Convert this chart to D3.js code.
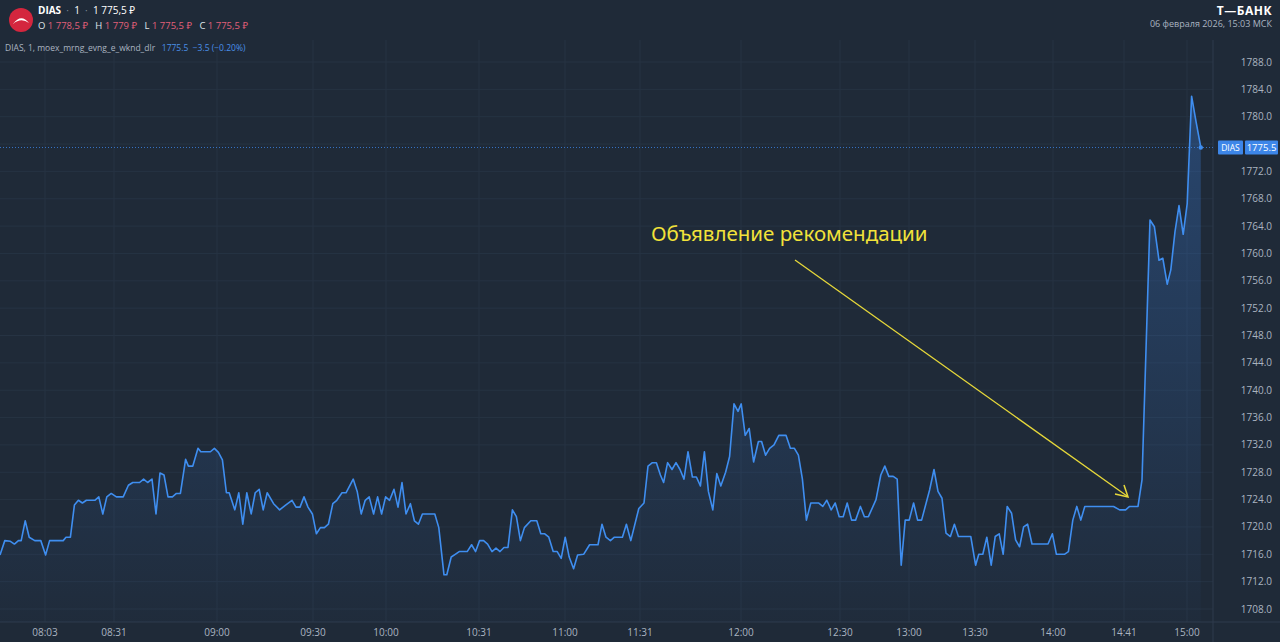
<!DOCTYPE html>
<html>
<head>
  <meta charset="utf-8">
  <title>DIAS</title>
  <style>
    html, body { margin: 0; padding: 0; background: #1f2a38; }
    svg { display: block; font-family: "Open Sans", "Noto Sans", sans-serif; }
    text { white-space: pre; }
  </style>
</head>
<body>
  <div id="chart"></div>
  <script src="https://d3js.org/d3.v7.min.js"></script>
  <script>
    // minute index (bar number) and close price
    var bars = [0,1.2,2.6,3.6,4.6,5.3,6.3,7.3,8.7,10.2,11.4,12.4,15.8,16.5,17.6,18.6,19.6,20.6,21.6,23.7,24.7,25.7,26.7,27.8,29.1,30.8,32.1,33.2,34.9,35.9,36.9,38.0,39.0,40.0,41.0,42.0,43.1,44.1,45.1,46.4,47.1,48.2,49.5,50.2,52.6,53.6,54.6,55.6,56.6,57.3,58.7,59.7,60.7,61.7,62.8,63.8,64.8,65.8,66.8,68.4,69.9,71.4,73.0,74.0,75.0,76.0,77.0,78.1,79.1,80.1,81.1,82.1,83.2,84.2,85.5,86.5,88.3,89.3,90.3,91.3,92.3,93.4,94.4,95.4,96.4,97.4,98.5,99.5,100.5,101.5,102.6,103.6,104.6,105.6,108.7,109.7,111.0,111.7,112.8,113.8,114.8,116.8,117.9,118.9,119.9,120.9,121.9,123.0,124.0,125.0,126.0,127.0,128.1,129.1,130.1,131.1,132.7,134.2,135.2,136.2,137.2,138.3,139.3,140.3,141.3,142.3,143.4,144.4,145.9,147.4,149.5,150.5,151.5,152.6,153.6,155.6,156.6,157.7,159.7,
      161.0,162.0,163.1,164.1,165.1,165.9,166.9,168.0,169.0,170.0,171.0,172.0,173.1,174.1,175.1,176.1,177.1,178.2,179.2,180.2,181.4,182.4,183.5,184.5,185.3,186.3,187.3,188.4,189.6,190.4,191.4,192.4,193.5,194.7,196.5,197.6,198.6,199.6,200.6,201.6,202.7,204.7,205.7,206.7,207.8,208.8,209.8,210.8,211.8,212.9,213.9,215.1,216.1,217.1,219.0,220.2,221.2,222.2,223.3,224.3,225.3,226.3,227.3,228.4,229.4,230.4,232.4,233.5,234.5,235.5,236.5,237.6,238.6,239.6,242.7,243.9,244.7,245.7,246.7,247.8,248.8,249.8,250.8,251.8,252.9,253.9,254.9,255.9,256.9,258.0,262.0,263.1,264.1,266.1,267.1,268.2,269.2,270.2,271.2,278.4,279.9,281.4,282.4,284.5,285.5,
      287.5,288.6,289.75,290.7,291.8,292.7,293.75,294.75,295.8,296.8,297.9,299.0,300.2];
    var prices = [1715.9,1718.0,1717.9,1717.5,1718.0,1718.0,1720.9,1718.5,1718.0,1718.0,1715.9,1718.0,1718.0,1718.5,1718.5,1723.2,1723.9,1723.5,1723.9,1723.9,1724.4,1721.9,1724.4,1724.9,1724.4,1724.4,1726.1,1726.5,1726.5,1727.0,1726.5,1727.0,1721.9,1727.9,1727.6,1724.4,1724.4,1724.9,1724.9,1729.9,1728.9,1728.9,1731.5,1731.0,1731.0,1731.5,1730.9,1729.8,1725.0,1725.0,1722.5,1725.0,1720.4,1725.0,1721.9,1725.0,1725.5,1722.5,1725.0,1723.4,1722.5,1723.2,1723.9,1722.9,1722.9,1724.4,1722.9,1721.9,1719.0,1719.9,1719.9,1720.4,1723.4,1723.9,1725.0,1725.0,1727.0,1725.2,1721.9,1723.9,1724.4,1721.9,1724.4,1721.9,1724.4,1723.9,1725.5,1722.9,1726.5,1721.9,1723.4,1720.9,1720.4,1721.9,1721.9,1719.9,1713.0,1713.0,1715.6,1716.0,1716.4,1716.4,1717.4,1716.4,1718.0,1718.0,1717.5,1716.4,1716.9,1716.4,1717.0,1717.0,1722.5,1721.5,1718.0,1719.9,1720.9,1720.9,1719.0,1719.0,1718.5,1716.4,1716.4,1715.4,1718.5,1715.6,1713.9,1715.9,1716.0,1717.4,1717.4,1720.4,1718.5,1718.0,1718.5,1718.5,1720.4,1718.0,1722.7,
      1723.5,1728.9,1729.4,1729.4,1727.6,1726.5,1729.4,1728.4,1729.4,1728.4,1727.0,1731.0,1727.3,1727.3,1726.0,1731.0,1725.2,1722.5,1727.8,1726.0,1728.0,1730.3,1738.0,1736.9,1738.0,1733.4,1734.4,1729.5,1732.5,1732.5,1730.5,1731.5,1732.0,1733.4,1733.4,1731.5,1731.5,1730.5,1727.0,1721.0,1723.5,1723.5,1723.0,1723.9,1722.5,1723.5,1721.5,1721.5,1723.5,1721.0,1721.0,1723.0,1721.5,1721.5,1724.0,1727.6,1728.9,1727.4,1727.4,1727.0,1714.4,1721.0,1721.0,1723.5,1721.0,1721.0,1725.4,1728.4,1725.2,1724.2,1719.1,1718.6,1720.4,1718.6,1718.6,1714.4,1716.0,1716.0,1718.5,1714.4,1718.6,1719.0,1716.0,1723.0,1722.0,1718.1,1717.1,1720.0,1720.4,1717.5,1717.5,1719.0,1716.0,1716.0,1716.4,1721.0,1723.0,1721.0,1723.0,1723.0,1722.5,1722.5,1723.0,1723.0,1726.9,
      1764.9,1763.9,1759.0,1759.3,1755.5,1757.6,1763.2,1767.0,1762.8,1767.3,1783.0,1779.3,1775.5];
    var timeLabels = ["08:03","08:31","09:00","09:30","10:00","10:31","11:00","11:31","12:00","12:30","13:00","13:30","14:00","14:41","15:00"];
    var timeBars = [11.25,28.5,54.25,78.25,96.5,119.75,141.25,160,185.25,210,227.25,243.75,263.25,281,296.75];
    var priceTicks = d3.range(1708, 1789, 4);
    var lastPrice = 1775.5;

    var W = 1280, H = 642;
    var plot = {left: 0, right: 1213, top: 40, bottom: 622};

    var svg = d3.select("#chart").append("svg").attr("width", W).attr("height", H);
    svg.append("rect").attr("width", W).attr("height", H).attr("fill", "#1f2a38");

    var x = d3.scaleLinear().domain([0, 300]).range([0, 1200]);
    var y = d3.scaleLinear().domain([1708, 1788]).range([609, 62]);

    // grid
    svg.append("g").selectAll("line").data(priceTicks).join("line")
        .attr("x1", plot.left).attr("x2", plot.right)
        .attr("y1", function(d){return y(d);}).attr("y2", function(d){return y(d);})
        .attr("stroke", "#263343");
    svg.append("g").selectAll("line").data(timeBars).join("line")
        .attr("x1", function(d){return x(d);}).attr("x2", function(d){return x(d);})
        .attr("y1", plot.top).attr("y2", plot.bottom)
        .attr("stroke", "#263343");

    // borders
    svg.append("line").attr("x1", plot.right).attr("x2", plot.right).attr("y1", plot.top).attr("y2", H).attr("stroke", "#2e3b4c");
    svg.append("line").attr("x1", 0).attr("x2", W).attr("y1", plot.bottom).attr("y2", plot.bottom).attr("stroke", "#2e3b4c");

    var data = bars.map(function(b, i){ return {t: b, v: prices[i]}; });

    var defs = svg.append("defs");
    var grad = defs.append("linearGradient").attr("id", "fillg").attr("x1", 0).attr("x2", 0).attr("y1", 0).attr("y2", 1);
    grad.append("stop").attr("offset", "0%").attr("stop-color", "#3a7bd5").attr("stop-opacity", 0.35);
    grad.append("stop").attr("offset", "100%").attr("stop-color", "#3a7bd5").attr("stop-opacity", 0.02);

    svg.append("path").datum(data)
        .attr("d", d3.area().x(function(d){return x(d.t);}).y0(plot.bottom).y1(function(d){return y(d.v);}))
        .attr("fill", "url(#fillg)");

    // last price dotted line
    svg.append("line").attr("x1", 0).attr("x2", plot.right)
        .attr("y1", y(lastPrice)).attr("y2", y(lastPrice))
        .attr("stroke", "#3d86e8").attr("stroke-dasharray", "1,2").attr("opacity", 0.8);

    svg.append("path").datum(data)
        .attr("d", d3.line().x(function(d){return x(d.t);}).y(function(d){return y(d.v);}))
        .attr("fill", "none").attr("stroke", "#3f8ef0").attr("stroke-width", 1.6).attr("stroke-linejoin", "round");

    var last = data[data.length - 1];
    svg.append("circle").attr("cx", x(last.t)).attr("cy", y(last.v)).attr("r", 2.2).attr("fill", "#3f8ef0");

    // right axis (the tick hidden under the price label is skipped)
    svg.append("g").selectAll("text").data(priceTicks.filter(function(d){return Math.abs(d - lastPrice) > 2;})).join("text")
        .attr("x", 1272).attr("y", function(d){return y(d) + 3.5;})
        .attr("text-anchor", "end").attr("font-size", 10).attr("fill", "#aab4c0")
        .text(function(d){return d.toFixed(1);});

    // bottom axis
    svg.append("g").selectAll("text").data(timeLabels).join("text")
        .attr("x", function(d, i){return x(timeBars[i]);}).attr("y", 636)
        .attr("text-anchor", "middle").attr("font-size", 10).attr("fill", "#aab4c0")
        .text(function(d){return d;});

    // price labels
    svg.append("rect").attr("x", 1218).attr("y", y(lastPrice) - 7).attr("width", 25).attr("height", 14).attr("fill", "#3d86e8").attr("rx", 1);
    svg.append("text").attr("x", 1230.5).attr("y", y(lastPrice) + 3.5).attr("text-anchor", "middle").attr("font-size", 8.5).attr("fill", "#fff").text("DIAS");
    svg.append("rect").attr("x", 1245).attr("y", y(lastPrice) - 7).attr("width", 33).attr("height", 14).attr("fill", "#3d86e8").attr("rx", 1);
    svg.append("text").attr("x", 1261.5).attr("y", y(lastPrice) + 3.5).attr("text-anchor", "middle").attr("font-size", 9.5).attr("fill", "#fff").text(lastPrice.toFixed(1));

    // annotation
    svg.append("text").attr("x", 651).attr("y", 241).attr("font-size", 20.5).attr("fill", "#f2e23a")
        .attr("font-family", "'Noto Sans', sans-serif").text("Объявление рекомендации");
    svg.append("line").attr("x1", 795).attr("y1", 260).attr("x2", 1127).attr("y2", 496)
        .attr("stroke", "#e6d83a").attr("stroke-width", 1.3);
    svg.append("path").attr("d", "M1115,494 L1128,497 L1124,485")
        .attr("fill", "none").attr("stroke", "#e6d83a").attr("stroke-width", 1.5);

    // header
    svg.append("circle").attr("cx", 21).attr("cy", 20).attr("r", 12).attr("fill", "#d4263e");
    svg.append("path").attr("d", "M13,24 Q21,13 29,23 Q21,17 13,24 Z").attr("fill", "#fff");
    svg.append("text").attr("x", 38).attr("y", 14).attr("font-size", 10).attr("fill", "#fff")
        .html('<tspan font-weight="bold">DIAS</tspan><tspan fill="#7d8896">  ·  </tspan>1<tspan fill="#7d8896">  ·  </tspan>1 775,5 ₽');
    svg.append("text").attr("x", 38).attr("y", 29).attr("font-size", 9.5).attr("fill", "#dfe4ea")
        .html('O <tspan fill="#e2607a">1 778,5 ₽</tspan>   H <tspan fill="#e2607a">1 779 ₽</tspan>   L <tspan fill="#e2607a">1 775,5 ₽</tspan>   C <tspan fill="#e2607a">1 775,5 ₽</tspan>');
    svg.append("text").attr("x", 5).attr("y", 51).attr("font-size", 8.5).attr("fill", "#aab4c0")
        .html('DIAS, 1, moex_mrng_evng_e_wknd_dlr   <tspan fill="#4a90e8">1775.5  −3.5 (−0.20%)</tspan>');
    svg.append("text").attr("x", 1272).attr("y", 15).attr("text-anchor", "end").attr("font-size", 12)
        .attr("font-weight", "bold").attr("fill", "#fff").attr("letter-spacing", 0.5).text("Т—БАНК");
    svg.append("text").attr("x", 1272).attr("y", 27).attr("text-anchor", "end").attr("font-size", 9)
        .attr("fill", "#aab4c0").text("06 февраля 2026, 15:03 МСК");
  </script>
</body>
</html>
